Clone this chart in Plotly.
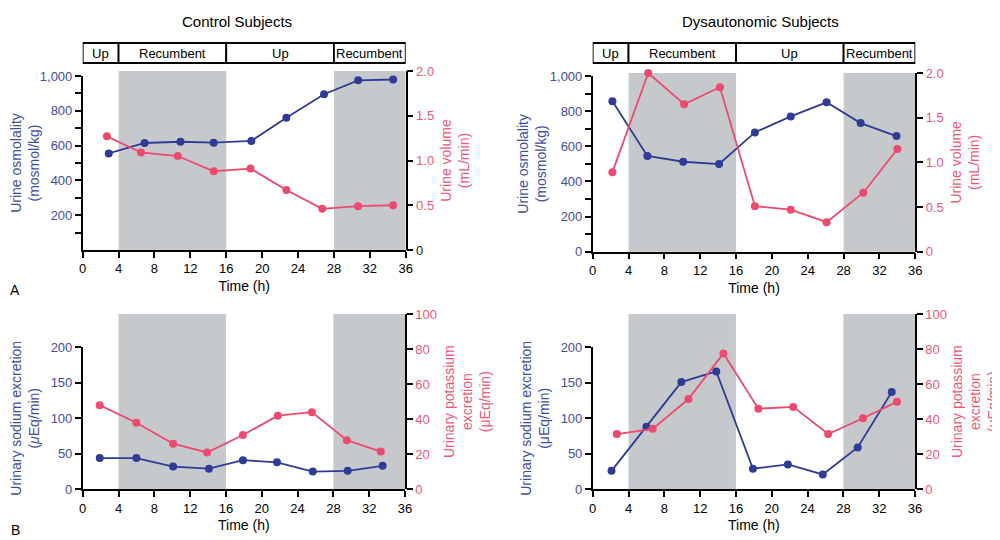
import plotly.graph_objects as go

# ---------------- data ----------------
phase_edges = [0, 4, 16, 28, 36]
phase_names = ["Up", "Recumbent", "Up", "Recumbent"]
recumbent_spans = [(4, 16), (28, 36)]
x_ticks = [0, 4, 8, 12, 16, 20, 24, 28, 32, 36]

# Control - urine osmolality (mosmol/kg) and urine volume (mL/min)
ctrl_osm_t = [2.9, 6.9, 10.9, 14.6, 18.8, 22.7, 26.9, 30.7, 34.6]
ctrl_osm = [555, 615, 622, 617, 627, 760, 895, 975, 980]
ctrl_vol_t = [2.7, 6.5, 10.6, 14.6, 18.7, 22.7, 26.7, 30.7, 34.6]
ctrl_vol = [1.27, 1.09, 1.05, 0.88, 0.91, 0.67, 0.46, 0.49, 0.50]

# Dysautonomic - urine osmolality and urine volume
dys_osm_t = [2.2, 6.1, 10.1, 14.1, 18.1, 22.1, 26.1, 29.9, 33.9]
dys_osm = [856, 545, 512, 499, 679, 770, 850, 732, 658]
dys_vol_t = [2.2, 6.2, 10.2, 14.2, 18.1, 22.1, 26.1, 30.2, 34.0]
dys_vol = [0.89, 2.0, 1.65, 1.84, 0.51, 0.47, 0.33, 0.66, 1.15]

# Control - urinary sodium / potassium excretion (uEq/min)
ctrl_na_t = [1.9, 6.0, 10.1, 14.1, 17.9, 21.7, 25.7, 29.6, 33.5]
ctrl_na = [44, 44, 32, 29, 41, 38, 25, 26, 33]
ctrl_k_t = [1.9, 6.0, 10.1, 13.9, 17.9, 21.8, 25.6, 29.5, 33.3]
ctrl_k = [48, 38, 26, 21, 31, 42, 44, 28, 21.5]

# Dysautonomic - urinary sodium / potassium excretion
dys_na_t = [2.1, 6.0, 9.9, 13.8, 17.9, 21.8, 25.7, 29.6, 33.4]
dys_na = [26, 88, 151, 166, 29, 35, 21, 59, 137]
dys_k_t = [2.7, 6.7, 10.7, 14.6, 18.5, 22.4, 26.3, 30.2, 34.0]
dys_k = [31.5, 34.5, 51.5, 77.5, 46, 47, 31.5, 40.5, 50]

osm_ticks = [0, 200, 400, 600, 800, 1000]
osm_ticktext = ["0", "200", "400", "600", "800", "1,000"]
osm_minor = [100, 300, 500, 700, 900]
vol_ticks = [0, 0.5, 1.0, 1.5, 2.0]
vol_ticktext = ["0", "0.5", "1.0", "1.5", "2.0"]
na_ticks = [0, 50, 100, 150, 200]
k_ticks = [0, 20, 40, 60, 80, 100]

# ---------------- style ----------------
W, H = 1000, 540
OFF = 8  # page body margin offset of the embedded figure
BLUE = "#2f3c96"
BLUE_TXT = "#3f4ea6"
PINK = "#ec4a6f"
PINK_TXT = "#f0587a"
GRAY = "#c6c9cc"
FONT = "Liberation Sans, Arial, sans-serif"


def px_x(p):
    return (p - OFF) / W


def px_y(p):
    return 1 - (p - OFF) / H


fig = go.Figure()
shapes = []
annotations = []


def axis_common():
    return dict(showgrid=False, zeroline=False, showline=True, linecolor="black",
                linewidth=1.5, ticks="outside", ticklen=6, tickwidth=1.5,
                tickcolor="black", automargin=False,
                tickfont=dict(family=FONT, size=13))


def panel(idx, xdom, bottom_px, ltop_px, rtop_px, lt, lv, rt, rv,
          lrange, rrange, ltickvals, lticktext, rtickvals, rticktext,
          ltitle, rtitle, lminor=None, phases_box=None, lstand=8, rstand=8):
    xname = "xaxis" if idx == 1 else f"xaxis{idx}"
    xref = "x" if idx == 1 else f"x{idx}"
    li = 2 * idx - 1
    ri = 2 * idx
    lname = "yaxis" if li == 1 else f"yaxis{li}"
    lref = "y" if li == 1 else f"y{li}"
    rname = f"yaxis{ri}"
    rref = f"y{ri}"

    xa = axis_common()
    xa.update(domain=[px_x(xdom[0]), px_x(xdom[1])], range=[0, 36],
              tickvals=x_ticks, anchor=lref,
              title=dict(text="Time (h)", font=dict(family=FONT, size=14, color="black"),
                         standoff=6))
    xa["tickfont"]["color"] = "black"

    la = axis_common()
    la.update(domain=[px_y(bottom_px), px_y(ltop_px)], range=lrange, anchor=xref,
              tickvals=ltickvals, ticktext=lticktext,
              title=dict(text=ltitle, font=dict(family=FONT, size=14, color=BLUE_TXT),
                         standoff=lstand))
    la["tickfont"]["color"] = BLUE_TXT
    if lminor is not None:
        la["minor"] = dict(tickvals=lminor, ticks="outside", ticklen=6,
                           tickwidth=1.5, tickcolor="black")

    ra = axis_common()
    ra.update(domain=[px_y(bottom_px), px_y(rtop_px)], range=rrange, anchor=xref,
              side="right", tickvals=rtickvals, ticktext=rticktext,
              title=dict(text=rtitle, font=dict(family=FONT, size=14, color=PINK_TXT),
                         standoff=rstand))
    ra["tickfont"]["color"] = PINK_TXT

    fig.update_layout(**{xname: xa, lname: la, rname: ra})

    # shaded recumbent periods span the full (right-axis) plot height
    for (a, b) in recumbent_spans:
        shapes.append(dict(type="rect", xref=xref, yref="paper", x0=a, x1=b,
                           y0=ra["domain"][0], y1=ra["domain"][1], fillcolor=GRAY,
                           line=dict(width=0), layer="below"))

    fig.add_trace(go.Scatter(x=lt, y=lv, xaxis=xref, yaxis=lref, mode="lines+markers",
                             line=dict(color=BLUE, width=1.8),
                             marker=dict(color=BLUE, size=8), showlegend=False,
                             cliponaxis=False))
    fig.add_trace(go.Scatter(x=rt, y=rv, xaxis=xref, yaxis=rref, mode="lines+markers",
                             line=dict(color=PINK, width=1.8),
                             marker=dict(color=PINK, size=8), showlegend=False,
                             cliponaxis=False))

    if phases_box is not None:
        y0p, y1p = phases_box
        for i, name in enumerate(phase_names):
            a, b = phase_edges[i], phase_edges[i + 1]
            shapes.append(dict(type="rect", xref=xref, yref="paper", x0=a, x1=b,
                               y0=px_y(y1p), y1=px_y(y0p), fillcolor="white",
                               line=dict(color="black", width=1.8)))
            annotations.append(dict(xref=xref, yref="paper", x=(a + b) / 2,
                                    y=px_y((y0p + y1p) / 2), text=name, showarrow=False,
                                    font=dict(family=FONT, size=13, color="black"),
                                    xanchor="center", yanchor="middle"))


# Control top: no "0" on left axis, dark "0" on right axis
panel(1, (82.7, 405.7), 250, 76, 71, ctrl_osm_t, ctrl_osm, ctrl_vol_t, ctrl_vol,
      [0, 1000], [0, 2.0], osm_ticks[1:], osm_ticktext[1:], vol_ticks,
      ['<span style="color:#222">0</span>'] + vol_ticktext[1:],
      "Urine osmolality<br>(mosmol/kg)", "Urine volume<br>(mL/min)",
      lminor=osm_minor, phases_box=(43, 63), lstand=0)

panel(2, (592.7, 915.3), 251.7, 76, 73, dys_osm_t, dys_osm, dys_vol_t, dys_vol,
      [0, 1000], [0, 2.0], osm_ticks, osm_ticktext, vol_ticks, vol_ticktext,
      "Urine osmolality<br>(mosmol/kg)", "Urine volume<br>(mL/min)",
      lminor=osm_minor, phases_box=(43, 63), lstand=0)

panel(3, (82.7, 405.0), 489.3, 347.3, 314, ctrl_na_t, ctrl_na, ctrl_k_t, ctrl_k,
      [0, 200], [0, 100], na_ticks, [str(v) for v in na_ticks], k_ticks,
      [str(v) for v in k_ticks],
      "Urinary sodium excretion<br>(<i>μ</i>Eq/min)",
      "Urinary potassium<br>excretion<br>(μEq/min)")

panel(4, (592.7, 915.0), 489.3, 347.3, 314, dys_na_t, dys_na, dys_k_t, dys_k,
      [0, 200], [0, 100], na_ticks, [str(v) for v in na_ticks], k_ticks,
      [str(v) for v in k_ticks],
      "Urinary sodium excretion<br>(μEq/min)",
      "Urinary potassium<br>excretion<br>(μEq/min)", rstand=6)

# Titles and panel letters
for txt, xp, yp, sz in [("Control Subjects", 237, 22, 15),
                        ("Dysautonomic Subjects", 760, 22, 15),
                        ("A", 15, 290, 14),
                        ("B", 15, 530, 14)]:
    annotations.append(dict(xref="paper", yref="paper", x=px_x(xp), y=px_y(yp),
                            text=txt, showarrow=False, xanchor="center",
                            yanchor="middle",
                            font=dict(family=FONT, size=sz, color="black")))

fig.update_layout(width=W, height=H, margin=dict(l=0, r=0, t=0, b=0, autoexpand=False),
                  paper_bgcolor="white", plot_bgcolor="rgba(0,0,0,0)",
                  shapes=shapes, annotations=annotations, showlegend=False,
                  font=dict(family=FONT))

fig.write_html("out.html")
